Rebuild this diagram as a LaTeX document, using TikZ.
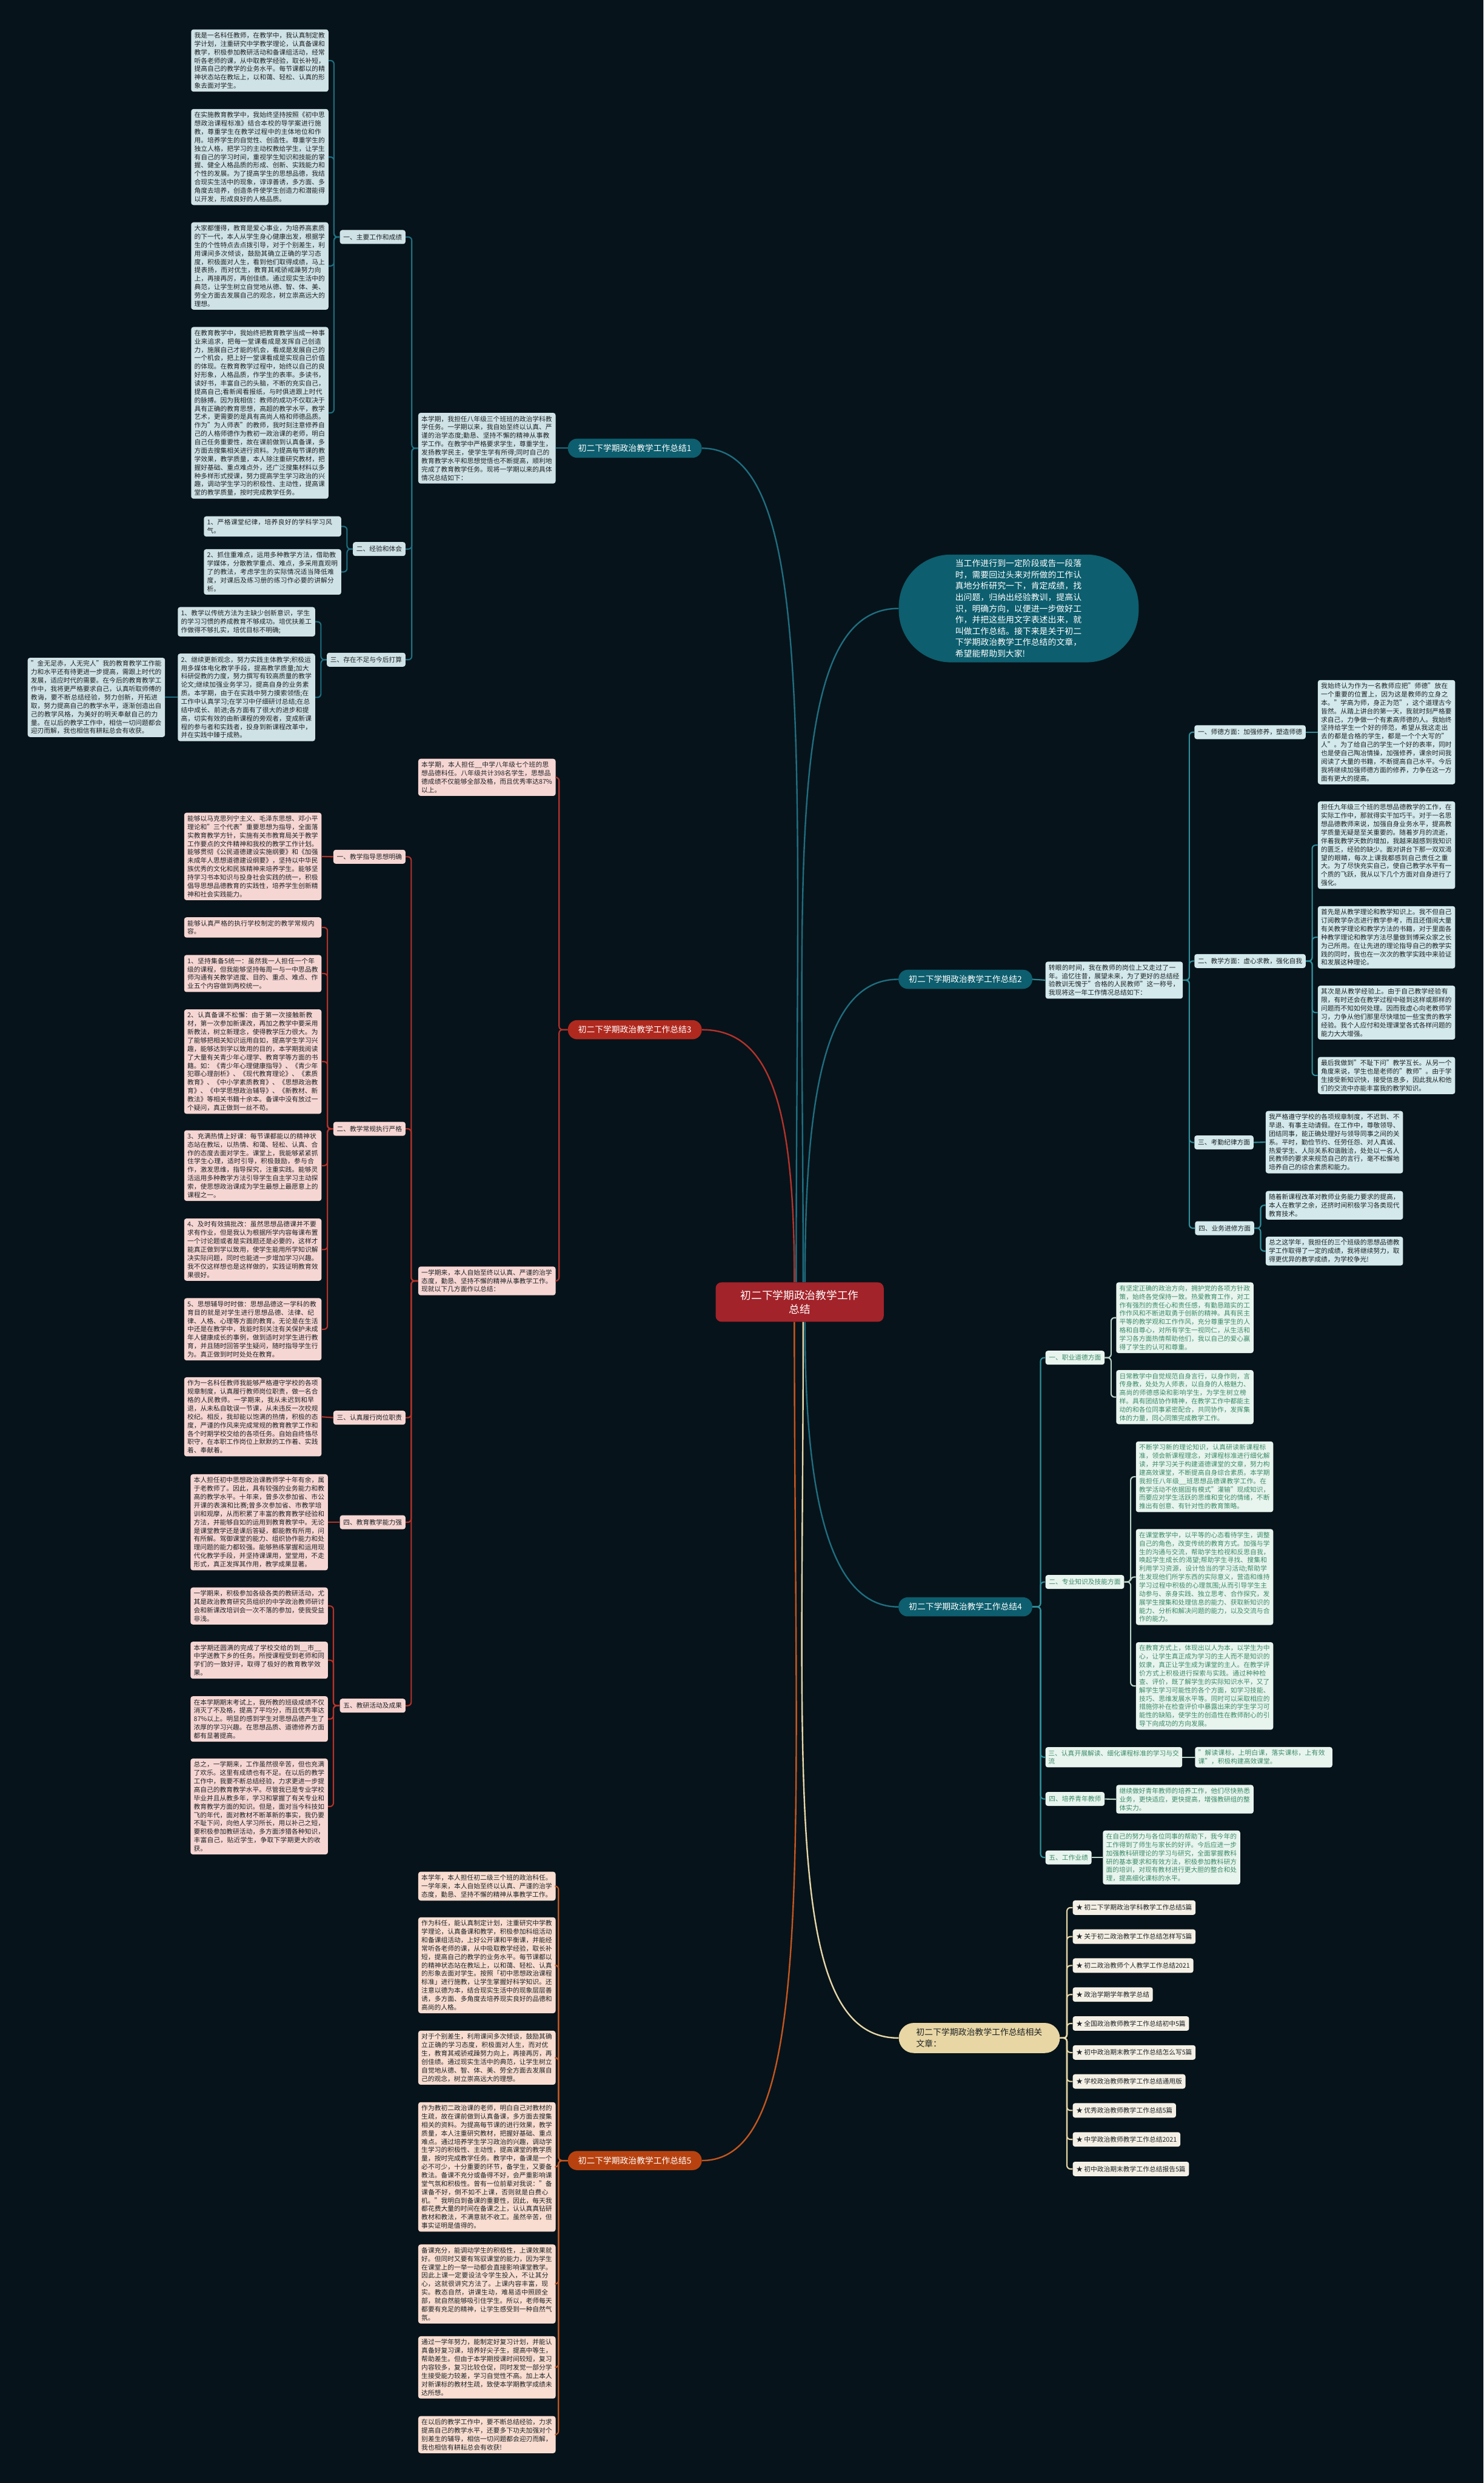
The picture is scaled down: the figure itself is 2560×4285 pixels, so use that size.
\documentclass[tikz,border=0pt]{standalone}
\usepackage{fontspec}
\setmainfont{Noto Sans CJK SC}
\XeTeXlinebreaklocale "zh"
\XeTeXlinebreakskip=0pt plus 1pt
\usetikzlibrary{positioning}
\definecolor{bgc}{HTML}{07131A}
\definecolor{tealnode}{HTML}{0D5E6E}
\definecolor{redctr}{HTML}{A3232A}
\definecolor{redbr}{HTML}{B0291F}
\definecolor{orgbr}{HTML}{B8420F}
\definecolor{creambr}{HTML}{E8D6A4}
\definecolor{bluefill}{HTML}{CFE2E6}
\definecolor{cyanfill}{HTML}{D3E9EC}
\definecolor{pinkfill}{HTML}{F6D6D3}
\definecolor{peachfill}{HTML}{F8DDD0}
\definecolor{greenfill}{HTML}{E8F4EE}
\definecolor{greenink}{HTML}{3B8B69}
\definecolor{creamfill}{HTML}{F5F0E5}
\definecolor{ink}{HTML}{1E2326}
\definecolor{linkteal}{HTML}{1E6E80}
\definecolor{linkcyan}{HTML}{2E8E9A}
\definecolor{linkred}{HTML}{B5322A}
\definecolor{linkorange}{HTML}{C4561F}
\definecolor{linkgreen}{HTML}{B7D3C6}
\definecolor{linkcream}{HTML}{E6D7A8}
\newcommand{\txtfont}{\fontsize{11.25pt}{14.5pt}\selectfont}
\newcommand{\brfont}{\fontsize{14.4pt}{18pt}\selectfont}
\newcommand{\ovfont}{\fontsize{14.5pt}{19.4pt}\selectfont}
\newcommand{\ctrfont}{\fontsize{18.5pt}{24pt}\selectfont}
\tikzset{
	para/.style={rounded corners=4pt,text width=226pt,inner xsep=5.5pt,inner ysep=5pt,align=left,font=\txtfont,text=ink},
	lab/.style={rounded corners=4pt,inner xsep=6pt,inner ysep=0pt,minimum height=24pt,font=\txtfont,text=ink},
	bluepara/.style={para,fill=bluefill},
	cyanpara/.style={para,fill=cyanfill},
	pinkpara/.style={para,fill=pinkfill},
	peachpara/.style={para,fill=peachfill},
	greenpara/.style={para,fill=greenfill,text=greenink},
	bluelab/.style={lab,fill=bluefill},
	cyanlab/.style={lab,fill=cyanfill},
	pinklab/.style={lab,fill=pinkfill},
	greenlab/.style={lab,fill=greenfill,text=greenink},
	creamitem/.style={lab,fill=creamfill,minimum height=25pt},
	branch/.style={rounded corners=16pt,minimum width=231pt,minimum height=33pt,text=white,font=\brfont},
	tealbranch/.style={branch,fill=tealnode},
	topic/.style={rounded corners=10pt,fill=redctr,text=white,font=\ctrfont,align=center,minimum width=290pt,minimum height=68pt},
	overview/.style={rounded corners=90pt,fill=tealnode,text=white,font=\ovfont,text width=219pt,align=left,minimum width=414pt,minimum height=186pt},
	related/.style={rounded corners=26pt,fill=creambr,text=ink,font=\ovfont,text width=218pt,inner xsep=30pt,align=left,minimum height=52pt},
	mainlink/.style={line width=2.5pt},
	sublink/.style={line width=2.2pt,rounded corners=6pt}
}
\begin{document}
\begin{tikzpicture}[x=1pt,y=-1pt]
\fill[bgc] (0,0) rectangle (2560,4285);
\useasboundingbox (0,0) rectangle (2560,4285);

\node[topic] (ctr) at (1380,2247) {初二下学期政治教学工作\\总结};
\node[overview] (ovw) at (1758,1050) {当工作进行到一定阶段或告一段落时，需要回过头来对所做的工作认真地分析研究一下，肯定成绩，找出问题，归纳出经验教训，提高认识，明确方向，以便进一步做好工作，并把这些用文字表述出来，就叫做工作总结。接下来是关于初二下学期政治教学工作总结的文章，希望能帮助到大家!};

\node[tealbranch] (b1) at (1095.5,773.5) {初二下学期政治教学工作总结1};
\node[bluepara,anchor=east] (b1i) at (959,773.5) {本学期，我担任八年级三个班班的政治学科教学任务。一学期以来，我自始至终以认真、严谨的治学态度;勤恳、坚持不懈的精神从事教学工作。在教学中严格要求学生，尊重学生，发扬教学民主，使学生学有所得;同时自己的教育教学水平和思想觉悟也不断提高，顺利地完成了教育教学任务。现将一学期以来的具体情况总结如下：};
\node[bluelab,anchor=east] (l1a) at (700,409) {一、主要工作和成绩};
\node[bluepara,anchor=east] (p1a) at (567,104.5) {我是一名科任教师，在教学中，我认真制定教学计划，注重研究中学教学理论，认真备课和教学，积极参加教研活动和备课组活动，经常听各老师的课，从中取教学经验，取长补短，提高自己的教学的业务水平。每节课都以的精神状态站在教坛上，以和蔼、轻松、认真的形象去面对学生。};
\node[bluepara,anchor=east] (p1b) at (567,271) {在实施教育教学中，我始终坚持按照《初中思想政治课程标准》结合本校的导学案进行施教，尊重学生在教学过程中的主体地位和作用。培养学生的自觉性、创造性。尊重学生的独立人格，把学习的主动权教给学生，让学生有自己的学习时间，重视学生知识和技能的掌握、健全人格品质的形成、创新、实践能力和个性的发展。为了提高学生的思想品德，我结合现实生活中的现象，谆谆善诱，多方面、多角度去培养，创造条件使学生创造力和潜能得以开发，形成良好的人格品质。};
\node[bluepara,anchor=east] (p1c) at (567,459) {大家都懂得，教育是爱心事业，为培养高素质的下一代，本人从学生身心健康出发，根据学生的个性特点去点拨引导，对于个别差生，利用课间多次倾谈，鼓励其确立正确的学习态度，积极面对人生，看到他们取得成绩，马上提表扬，而对优生，教育其戒骄戒躁努力向上，再接再厉，再创佳绩。通过现实生活中的典范，让学生树立自觉地从德、智、体、美、劳全方面去发展自己的观念，树立祟高远大的理想。};
\node[bluepara,anchor=east] (p1d) at (567,712.5) {在教育教学中，我始终把教育教学当成一种事业来追求，把每一堂课看成是发挥自己创造力，施展自己才能的机会，看成是发展自己的一个机会，把上好一堂课看成是实现自己价值的体现。在教育教学过程中，始终以自己的良好形象，人格品质，作学生的表率。多读书，读好书，丰富自己的头脑，不断的充实自己，提高自己;看新闻看报纸，与时俱进跟上时代的脉搏。因为我相信：教师的成功不仅取决于具有正确的教育思想，高超的教学水平，教学艺术，更需要的是具有高尚人格和师德品质。作为"为人师表"的教师，我时刻注意修养自己的人格师德作为教初一政治课的老师，明白自己任务重要性，故在课前做到认真备课，多方面去搜集相关进行资料。为提高每节课的教学效果，教学质量，本人除注重研究教材，把握好基础、重点难点外，还广泛搜集材料以多种多样形式授课，努力提高学生学习政治的兴趣，调动学生学习的积极性、主动性，提高课堂的教学质量，按时完成教学任务。};
\node[bluelab,anchor=east] (l1b) at (700,947.5) {二、经验和体会};
\node[bluepara,anchor=east] (q1a) at (589,908.5) {1、严格课堂纪律，培养良好的学科学习风气。};
\node[bluepara,anchor=east] (q1b) at (589,987) {2、抓住重难点，运用多种教学方法，借助教学媒体，分散教学重点、难点，多采用直观明了的教法，考虑学生的实际情况适当降低难度，对课后及练习册的练习作必要的讲解分析。};
\node[bluelab,anchor=east] (l1c) at (700,1138.5) {三、存在不足与今后打算};
\node[bluepara,anchor=east] (r1a) at (544,1073) {1、教学以传统方法为主缺少创新意识，学生的学习习惯的养成教育不够成功。培优扶差工作做得不够扎实，培优目标不明确;};
\node[bluepara,anchor=east] (r1b) at (544,1203.5) {2、继续更新观念，努力实践主体教学;积极运用多媒体电化教学手段，提高教学质量;加大科研促教的力度，努力撰写有较高质量的教学论文;继续加强业务学习，提高自身的业务素质。本学期，由于在实践中努力摸索领悟;在工作中认真学习;在学习中仔细研讨总结;在总结中成长、前进;各方面有了很大的进步和提高，切实有效的由新课程的旁观者，变成新课程的参与者和实践者，投身到新课程改革中，并在实践中臻于成熟。};
\node[bluepara,anchor=east] (r1c) at (285,1203.5) {"金无足赤，人无完人"我的教育教学工作能力和水平还有待更进一步提高，需跟上时代的发展，适应时代的需要。在今后的教育教学工作中，我将更严格要求自己，认真听取师傅的教诲，要不断总结经验，努力创新，开拓进取，努力提高自己的教学水平，逐渐创造出自己的教学风格，为美好的明天奉献自己的力量。在以后的教学工作中，相信一切问题都会迎刃而解，我也相信有耕耘总会有收获。};

\node[branch,fill=redbr] (b3) at (1095.5,1777) {初二下学期政治教学工作总结3};
\node[pinkpara,anchor=east] (b3top) at (959,1341.5) {本学期，本人担任\_\_中学八年级七个班的思想品德科任。八年级共计398名学生，思想品德成绩不仅能够全部及格，而且优秀率达87\%以上。};
\node[pinkpara,anchor=east] (b3mid) at (959,2210.5) {一学期来，本人自始至终以认真、严谨的治学态度，勤恳、坚持不懈的精神从事教学工作。现就以下几方面作以总结：};
\node[pinklab,anchor=east] (l3a) at (700,1478.5) {一、教学指导思想明确};
\node[pinkpara,anchor=east] (s3a) at (555,1478) {能够以马克思列宁主义、毛泽东思想、邓小平理论和"三个代表"重要思想为指导，全面落实教育教学方针，实施有关市教育局关于教学工作要点的文件精神和我校的教学工作计划。能够贯彻《公民道德建设实施纲要》和《加强未成年人思想道德建设纲要》，坚持以中华民族优秀的文化和民族精神来培养学生。能够坚持学习书本知识与投身社会实践的统一，积极倡导思想品德教育的实践性，培养学生创新精神和社会实践能力。};
\node[pinklab,anchor=east] (l3b) at (700,1948) {二、教学常规执行严格};
\node[pinkpara,anchor=east] (s3b1) at (555,1600.5) {能够认真严格的执行学校制定的教学常规内容。};
\node[pinkpara,anchor=east] (s3b2) at (555,1680) {1、坚持集备5统一：虽然我一人担任一个年级的课程，但我能够坚持每周一与一中思品教师沟通有关教学进度、目的、重点、难点、作业五个内容做到两校统一。};
\node[pinkpara,anchor=east] (s3b3) at (555,1832) {2、认真备课不松懈：由于第一次接触新教材，第一次参加新课改，再加之教学中要采用新教法，树立新理念，使得教学压力很大。为了能够把相关知识运用自如，提高学生学习兴趣，能够达到学以致用的目的，本学期我阅读了大量有关青少年心理学、教育学等方面的书籍。如：《青少年心理健康指导》、《青少年犯罪心理剖析》、《现代教育理论》、《素质教育》、《中小学素质教育》、《思想政治教育》、《中学思想政治辅导》、《新教材、新教法》等相关书籍十余本。备课中没有放过一个疑问，真正做到一丝不苟。};
\node[pinkpara,anchor=east] (s3b4) at (555,2011.5) {3、充满热情上好课：每节课都能以的精神状态站在教坛，以热情、和蔼、轻松、认真、合作的态度去面对学生。课堂上，我能够紧紧抓住学生心理，适时引导，积极鼓励，参与合作，激发思维，指导探究，注重实践。能够灵活运用多种教学方法引导学生自主学习主动探索，使思想政治课成为学生最想上最愿意上的课程之一。};
\node[pinkpara,anchor=east] (s3b5) at (555,2156.5) {4、及时有效搞批改：虽然思想品德课并不要求有作业，但是我认为根据所学内容每课布置一个讨论题或者是实践题还是必要的，这样才能真正做到学以致用，使学生能用所学知识解决实际问题，同时也能进一步增加学习兴趣。我不仅这样想也是这样做的，实践证明教育效果很好。};
\node[pinkpara,anchor=east] (s3b6) at (555,2294) {5、思想辅导时时做：思想品德这一学科的教育目的就是对学生进行思想品德、法律、纪律、人格、心理等方面的教育。无论是在生活中还是在教学中，我能时刻关注有关保护未成年人健康成长的事例，做到适时对学生进行教育，并且随时回答学生疑问，随时指导学生行为。真正做到时时处处在教育。};
\node[pinklab,anchor=east] (l3c) at (700,2446.5) {三、认真履行岗位职责};
\node[pinkpara,anchor=east] (s3c) at (555,2445) {作为一名科任教师我能够严格遵守学校的各项规章制度，认真履行教师岗位职责，做一名合格的人民教师。一学期来，我从未迟到和早退，从未私自耽误一节课，从未违反一次校规校纪。相反，我却能以饱满的热情，积极的态度，严谨的作风来完成常规的教育教学工作和各个时期学校交给的各项任务。自始自终恪尽职守，在本职工作岗位上默默的工作着、实践着、奉献着。};
\node[pinklab,anchor=east] (l3d) at (700,2627) {四、教育教学能力强};
\node[pinkpara,anchor=east] (s3d) at (566,2627) {本人担任初中思想政治课教师学十年有余，属于老教师了。因此，具有较强的业务能力和教高的教学水平。十年来，曾多次参加省、市公开课的表演和比赛;曾多次参加省、市教学培训和观摩，从而积累了丰富的教育教学经验和方法，并能够自如的运用到教育教学中。无论是课堂教学还是课后答疑，都能教有所用，问有所解。驾御课堂的能力、组织协作能力和处理问题的能力都较强。能够熟练掌握和运用现代化教学手段，并坚持课课用，堂堂用，不走形式，真正发挥其作用，教学成果显著。};
\node[pinklab,anchor=east] (l3e) at (700,2943.5) {五、教研活动及成果};
\node[pinkpara,anchor=east] (s3e1) at (566,2771.5) {一学期来，积极参加各级各类的教研活动，尤其是政治教育研究员组织的中学政治教师研讨会和新课改培训会一次不落的参加，使我受益非浅。};
\node[pinkpara,anchor=east] (s3e2) at (566,2865) {本学期还圆满的完成了学校交给的到\_\_市\_\_中学送教下乡的任务。所授课程受到老师和同学们的一致好评，取得了极好的教育教学效果。};
\node[pinkpara,anchor=east] (s3e3) at (566,2966.5) {在本学期期末考试上，我所教的班级成绩不仅消灭了不及格，提高了平均分，而且优秀率达87\%以上。明显的感到学生对思想品德产生了浓厚的学习兴趣。在思想品质、道德修养方面都有显著提高。};
\node[pinkpara,anchor=east] (s3e4) at (566,3117.5) {总之，一学期来，工作虽然很辛苦，但也充满了欢乐。这里有成绩也有不足。在以后的教学工作中，我要不断总结经验，力求更进一步提高自己的教育教学水平。尽管我已是专业学校毕业并且从教多年，学习和掌握了有关专业和教育教学方面的知识。但是，面对当今科技如飞的年代，面对教材不断革新的事实，我仍要不耻下问，向他人学习所长，用以补己之短，要积极参加教研活动，多方面涉猎各种知识，丰富自己，贴近学生，争取下学期更大的收获。};

\node[branch,fill=orgbr] (b5) at (1095.5,3728.5) {初二下学期政治教学工作总结5};
\node[peachpara,anchor=east] (t5a) at (959,3255) {本学年，本人担任初二级三个班的政治科任。一学年来，本人自始至终以认真、严谨的治学态度，勤恳、坚持不懈的精神从事教学工作。};
\node[peachpara,anchor=east] (t5b) at (959,3391.5) {作为科任，能认真制定计划，注重研究中学教学理论，认真备课和教学，积极参加科组活动和备课组活动，上好公开课和平衡课，并能经常听各老师的课，从中吸取教学经验，取长补短，提高自己的教学的业务水平。每节课都以的精神状态站在教坛上，以和蔼、轻松、认真的形象去面对学生。按照「初中思想政治课程标准」进行施教，让学生掌握好科学知识。还注意以德为本，结合现实生活中的现象层层善诱，多方面、多角度去培养现实良好的品德和高尚的人格。};
\node[peachpara,anchor=east] (t5c) at (959,3551) {对于个别差生，利用课间多次倾谈，鼓励其确立正确的学习态度，积极面对人生，而对优生，教育其戒骄戒躁努力向上，再接再厉，再创佳绩。通过现实生活中的典范，让学生树立自觉地从德、智、体、美、劳全方面去发展自己的观念，树立崇高远大的理想。};
\node[peachpara,anchor=east] (t5d) at (959,3739.5) {作为教初二政治课的老师，明白自己对教材的生疏，故在课前做到认真备课，多方面去搜集相关的资料。为提高每节课的进行效果，教学质量，本人注重研究教材，把握好基础、重点难点。通过培养学生学习政治的兴趣，调动学生学习的积极性、主动性，提高课堂的教学质量，按时完成教学任务。教学中，备课是一个必不可少，十分重要的环节，备学生，又要备教法。备课不充分或备得不好，会严重影响课堂气氛和积极性。曾有一位前辈对我说："备课备不好，倒不如不上课，否则就是白费心机。"我明白到备课的重要性，因此，每天我都花费大量的时间在备课之上，认认真真钻研教材和教法，不满意就不收工。虽然辛苦，但事实证明是值得的。};
\node[peachpara,anchor=east] (t5e) at (959,3941.5) {备课充分，能调动学生的积极性，上课效果就好。但同时又要有驾驭课堂的能力，因为学生在课堂上的一举一动都会直接影响课堂教学。因此上课一定要设法令学生投入，不让其分心，这就很讲究方法了。上课内容丰富，现实。教态自然，讲课生动，难易适中照顾全部，就自然能够吸引住学生。所以，老师每天都要有充足的精神，让学生感受到一种自然气氛。};
\node[peachpara,anchor=east] (t5f) at (959,4085.5) {通过一学年努力，能制定好复习计划，并能认真备好复习课，培养好尖子生，提高中等生，帮助差生。但由于本学期授课时间较短，复习内容较多，复习比较仓促，同时发觉一部分学生接受能力较差，学习自觉性不高。加上本人对新课标的教材生疏，致使本学期教学成绩未达所想。};
\node[peachpara,anchor=east] (t5g) at (959,4201.5) {在以后的教学工作中，要不断总结经验，力求提高自己的教学水平，还要多下功夫加强对个别差生的辅导，相信一切问题都会迎刃而解，我也相信有耕耘总会有收获!};

\node[tealbranch] (b2) at (1666,1690) {初二下学期政治教学工作总结2};
\node[cyanpara,anchor=west] (b2i) at (1804,1691.5) {转眼的时间，我在教师的岗位上又走过了一年。追忆往昔，展望未来，为了更好的总结经验教训无愧于"合格的人民教师"这一称号，我现将这一年工作情况总结如下：};
\node[cyanlab,anchor=west] (l2a) at (2061,1263.5) {一、师德方面：加强修养，塑造师德};
\node[cyanpara,anchor=west] (u2a) at (2274,1263.5) {我始终认为作为一名教师应把"师德"放在一个重要的位置上，因为这是教师的立身之本。"学高为师，身正为范"，这个道理古今皆然。从踏上讲台的第一天，我就时刻严格要求自己，力争做一个有素高师德的人。我始终坚持给学生一个好的师范，希望从我这走出去的都是合格的学生，都是一个个大写的"人"。为了给自己的学生一个好的表率，同时也是使自己陶冶情操，加强修养，课余时间我阅读了大量的书籍，不断提高自己水平。今后我将继续加强师德方面的修养，力争在这一方面有更大的提高。};
\node[cyanlab,anchor=west] (l2b) at (2061,1658.5) {二、教学方面：虚心求教，强化自我};
\node[cyanpara,anchor=west] (u2b1) at (2274,1458.5) {担任九年级三个班的思想品德教学的工作，在实际工作中，那就得实干加巧干。对于一名思想品德教师来说，加强自身业务水平，提高教学质量无疑是至关重要的。随着岁月的流逝，伴着我教学天数的增加，我越来越感到我知识的匮乏，经验的缺少。面对讲台下那一双双渴望的眼睛，每次上课我都感到自己责任之重大。为了尽快充实自己，使自己教学水平有一个质的飞跃，我从以下几个方面对自身进行了强化。};
\node[cyanpara,anchor=west] (u2b2) at (2274,1617.5) {首先是从教学理论和教学知识上。我不但自己订阅教学杂志进行教学参考，而且还借阅大量有关教学理论和教学方法的书籍，对于里面各种教学理论和教学方法尽量做到博采众家之长为己所用。在让先进的理论指导自己的教学实践的同时，我也在一次次的教学实践中来验证和发展这种理论。};
\node[cyanpara,anchor=west] (u2b3) at (2274,1747.5) {其次是从教学经验上。由于自己教学经验有限，有时还会在教学过程中碰到这样或那样的问题而不知如何处理。因而我虚心向老教师学习，力争从他们那里尽快增加一些宝贵的教学经验。我个人应付和处理课堂各式各样问题的能力大大增强。};
\node[cyanpara,anchor=west] (u2b4) at (2274,1856) {最后我做到"不耻下问"教学互长。从另一个角度来说，学生也是老师的"教师"。由于学生接受新知识快，接受信息多，因此我从和他们的交流中亦能丰富我的教学知识。};
\node[cyanlab,anchor=west] (l2c) at (2061,1971.5) {三、考勤纪律方面};
\node[cyanpara,anchor=west] (u2c) at (2184,1971) {我严格遵守学校的各项规章制度，不迟到、不早退、有事主动请假。在工作中，尊敬领导、团结同事，能正确处理好与领导同事之间的关系。平时，勤俭节约、任劳任怨、对人真诚、热爱学生、人际关系和谐融洽，处处以一名人民教师的要求来规范自己的言行，毫不松懈地培养自己的综合素质和能力。};
\node[cyanlab,anchor=west] (l2d) at (2062,2119.5) {四、业务进修方面};
\node[cyanpara,anchor=west] (u2d1) at (2184,2080) {随着新课程改革对教师业务能力要求的提高，本人在教学之余，还挤时间积极学习各类现代教育技术。};
\node[cyanpara,anchor=west] (u2d2) at (2184,2159) {总之这学年，我担任的三个班级的思想品德教学工作取得了一定的成绩，我将继续努力，取得更优异的教学成绩，为学校争光!};

\node[tealbranch] (b4) at (1666,2773) {初二下学期政治教学工作总结4};
\node[greenlab,anchor=west] (l4a) at (1804,2343) {一、职业道德方面};
\node[greenpara,anchor=west] (v4a1) at (1926,2274) {有坚定正确的政治方向，拥护党的各项方针政策，始终各党保持一致。热爱教育工作，对工作有强烈的责任心和责任感，有勤恳踏实的工作作风和不断进取勇于创新的精神。具有民主平等的教学观和工作作风，充分尊重学生的人格和自尊心，对所有学生一视同仁，从生活和学习各方面热情帮助他们，我以自己的爱心赢得了学生的认可和尊重。};
\node[greenpara,anchor=west] (v4a2) at (1926,2411) {日常教学中自觉规范自身言行，以身作则，言传身教，处处为人师表，以自身的人格魅力、高尚的师德感染和影响学生，为学生树立榜样。具有团结协作精神，在教学工作中都能主动的和各位同事紧密配合，共同协作，发挥集体的力量，同心同策完成教学工作。};
\node[greenlab,anchor=west] (l4b) at (1804,2730) {二、专业知识及技能方面};
\node[greenpara,anchor=west] (v4b1) at (1960,2548.5) {不断学习新的理论知识，认真研读新课程标准，领会新课程理念，对课程标准进行细化解读，并学习关于构建道德课堂的文章，努力构建高效课堂，不断提高自身综合素质。本学期我担任八年级\_\_班思想品德课教学工作。在教学活动不依据固有模式"灌输"现成知识，而要应对学生活跃的思维和变化的情绪，不断推出有创意、有针对性的教育策略。};
\node[greenpara,anchor=west] (v4b2) at (1960,2721.5) {在课堂教学中，以平等的心态看待学生，调整自己的角色，改变传统的教育方式。加强与学生的沟通与交流，帮助学生检视和反思自我，唤起学生成长的渴望;帮助学生寻找、搜集和利用学习资源，设计恰当的学习活动;帮助学生发现他们所学东西的实际意义，营造和维持学习过程中积极的心理氛围;从而引导学生主动参与、亲身实践、独立思考、合作探究，发展学生搜集和处理信息的能力、获取新知识的能力、分析和解决问题的能力，以及交流与合作的能力。};
\node[greenpara,anchor=west] (v4b3) at (1960,2909.5) {在教育方式上，体现出以人为本，以学生为中心，让学生真正成为学习的主人而不是知识的奴隶，真正让学生成为课堂的主人。在教学评价方式上积极进行探索与实践。通过种种检查、评价，既了解学生的实际知识水平，又了解学生学习可能性的各个方面，如学习技能、技巧、思维发展水平等。同时可以采取相应的措施弥补在检查评价中暴露出来的学生学习可能性的缺陷，使学生的创造性在教师耐心的引导下向成功的方向发展。};
\node[greenpara,anchor=west,inner xsep=5pt] (l4c) at (1804,3032.5) {三、认真开展解读、细化课程标准的学习与交流};
\node[greenpara,anchor=west] (v4c) at (2062,3032.5) {"解读课标，上明白课，落实课标，上有效课"，积极构建高效课堂。};
\node[greenlab,anchor=west] (l4d) at (1804,3104.5) {四、培养青年教师};
\node[greenpara,anchor=west] (v4d) at (1926,3105) {继续做好青年教师的培养工作，他们尽快熟悉业务，更快适应，更快提高，增强教研组的整体实力。};
\node[greenlab,anchor=west] (l4e) at (1804,3205.5) {五、工作业绩};
\node[greenpara,anchor=west] (v4e) at (1903,3205.5) {在自己的努力与各位同事的帮助下，我今年的工作得到了师生与家长的好评。今后应进一步加强教科研理论的学习与研究，全面掌握教科研的基本要求和有效方法，积极参加教科研方面的培训，对现有教材进行更大胆的整合和处理，提高细化课标的水平。};

\node[related] (rel) at (1690,3517) {初二下学期政治教学工作总结相关文章：};
\node[creamitem,anchor=west] (a0) at (1851,3292) {★ 初二下学期政治学科教学工作总结5篇};
\node[creamitem,anchor=west] (a1) at (1851,3342) {★ 关于初二政治教学工作总结怎样写5篇};
\node[creamitem,anchor=west] (a2) at (1851,3392) {★ 初二政治教师个人教学工作总结2021};
\node[creamitem,anchor=west] (a3) at (1851,3442) {★ 政治学期学年教学总结};
\node[creamitem,anchor=west] (a4) at (1851,3492) {★ 全国政治教师教学工作总结初中5篇};
\node[creamitem,anchor=west] (a5) at (1851,3542) {★ 初中政治期末教学工作总结怎么写5篇};
\node[creamitem,anchor=west] (a6) at (1851,3592) {★ 学校政治教师教学工作总结通用版};
\node[creamitem,anchor=west] (a7) at (1851,3642) {★ 优秀政治教师教学工作总结5篇};
\node[creamitem,anchor=west] (a8) at (1851,3692) {★ 中学政治教师教学工作总结2021};
\node[creamitem,anchor=west] (a9) at (1851,3743) {★ 初中政治期末教学工作总结报告5篇};

\draw[mainlink,linkteal] (ctr.100) .. controls +(0,-900) and +(200,0) .. (b1.east);
\draw[mainlink,linkteal] (ctr.80) .. controls +(0,-700) and +(-200,0) .. (ovw.west);
\draw[mainlink,linkred] (ctr.105) .. controls +(0,-300) and +(120,0) .. (b3.east);
\draw[mainlink,linkteal] (ctr.75) .. controls +(0,-350) and +(-120,0) .. (b2.west);
\draw[mainlink,linkteal] (ctr.285) .. controls +(0,300) and +(-120,0) .. (b4.west);
\draw[mainlink,linkorange] (ctr.255) .. controls +(0,900) and +(200,0) .. (b5.east);
\draw[mainlink,linkcream] (ctr.280) .. controls +(0,800) and +(-200,0) .. (rel.west);

\draw[sublink,linkteal] (b1.west) -- (b1i.east);
\foreach \l in {l1a,l1b,l1c} \draw[sublink,linkteal] (b1i.west) -- ++(-11,0) |- (\l.east);
\foreach \p in {p1a,p1b,p1c,p1d} \draw[sublink,linkteal] (l1a.west) -- ++(-10,0) |- (\p.east);
\foreach \p in {q1a,q1b} \draw[sublink,linkteal] (l1b.west) -- ++(-10,0) |- (\p.east);
\foreach \p in {r1a,r1b} \draw[sublink,linkteal] (l1c.west) -- ++(-10,0) |- (\p.east);
\draw[sublink,linkteal] (r1b.west) -- (r1c.east);

\foreach \p in {b3top,b3mid} \draw[sublink,linkred] (b3.west) -- ++(-15,0) |- (\p.east);
\foreach \l in {l3a,l3b,l3c,l3d,l3e} \draw[sublink,linkred] (b3mid.west) -- ++(-12,0) |- (\l.east);
\draw[sublink,linkred] (l3a.west) -- (s3a.east);
\foreach \p in {s3b1,s3b2,s3b3,s3b4,s3b5,s3b6} \draw[sublink,linkred] (l3b.west) -- ++(-10,0) |- (\p.east);
\draw[sublink,linkred] (l3c.west) -- (s3c.east);
\draw[sublink,linkred] (l3d.west) -- (s3d.east);
\foreach \p in {s3e1,s3e2,s3e3,s3e4} \draw[sublink,linkred] (l3e.west) -- ++(-11,0) |- (\p.east);

\foreach \p in {t5a,t5b,t5c,t5d,t5e,t5f,t5g} \draw[sublink,linkorange] (b5.west) -- ++(-16,0) |- (\p.east);

\draw[sublink,linkcyan] (b2.east) -- (b2i.west);
\foreach \l in {l2a,l2b,l2c,l2d} \draw[sublink,linkcyan] (b2i.east) -- ++(11,0) |- (\l.west);
\draw[sublink,linkcyan] (l2a.east) -- (u2a.west);
\foreach \p in {u2b1,u2b2,u2b3,u2b4} \draw[sublink,linkcyan] (l2b.east) -- ++(11,0) |- (\p.west);
\draw[sublink,linkcyan] (l2c.east) -- (u2c.west);
\foreach \p in {u2d1,u2d2} \draw[sublink,linkcyan] (l2d.east) -- ++(11,0) |- (\p.west);

\foreach \l in {l4a,l4b,l4c,l4d,l4e} \draw[sublink,linkcyan] (b4.east) -- ++(14,0) |- (\l.west);
\foreach \p in {v4a1,v4a2} \draw[sublink,linkgreen] (l4a.east) -- ++(11,0) |- (\p.west);
\foreach \p in {v4b1,v4b2,v4b3} \draw[sublink,linkgreen] (l4b.east) -- ++(11,0) |- (\p.west);
\draw[sublink,linkgreen] (l4c.east) -- (v4c.west);
\draw[sublink,linkgreen] (l4d.east) -- (v4d.west);
\draw[sublink,linkgreen] (l4e.east) -- (v4e.west);

\foreach \a in {a0,a1,a2,a3,a4,a5,a6,a7,a8,a9} \draw[sublink,linkcream] (rel.east) -- ++(12,0) |- (\a.west);
\end{tikzpicture}
\end{document}
